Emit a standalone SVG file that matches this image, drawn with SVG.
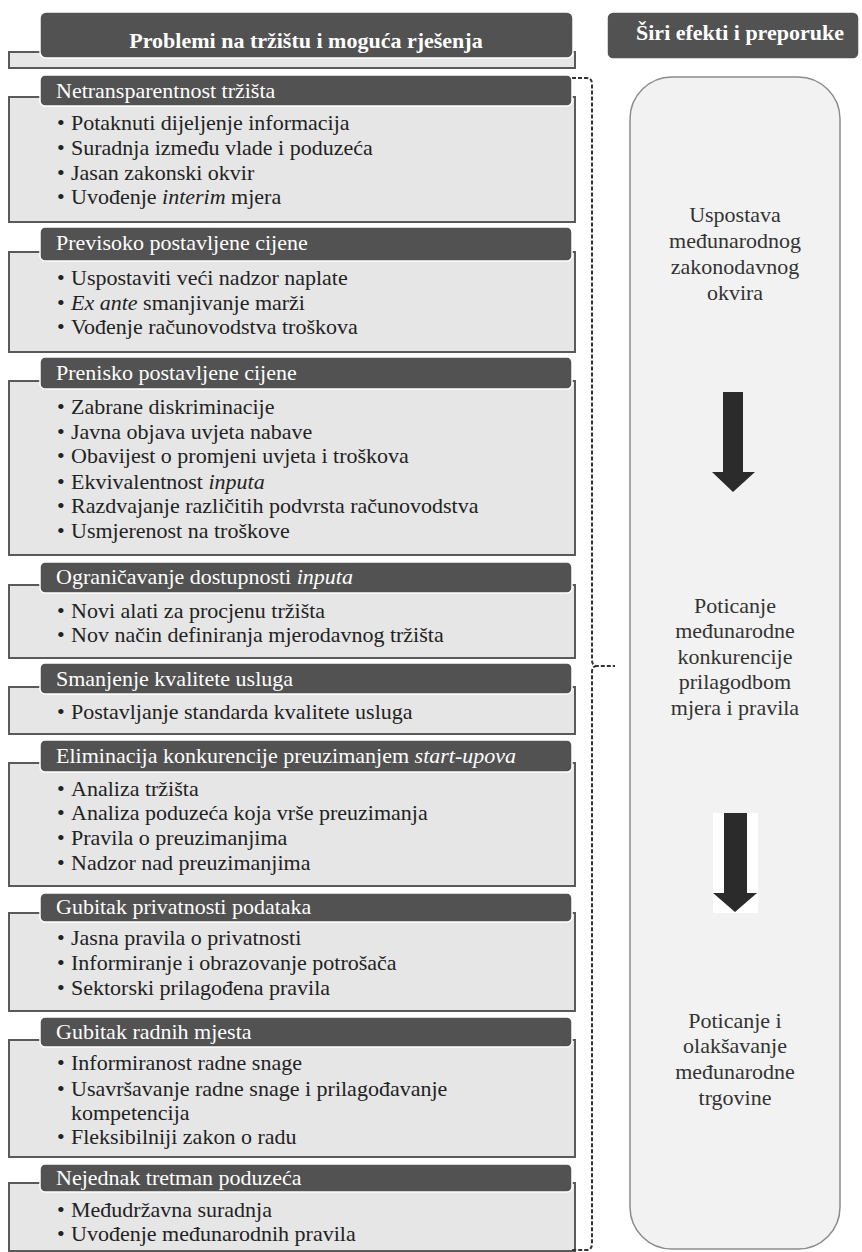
<svg xmlns="http://www.w3.org/2000/svg" width="862" height="1252" viewBox="0 0 862 1252">
<style>
.body{fill:#e6e6e6;stroke:#5a5a5a;stroke-width:2}
.hdr{fill:#525252;stroke:#ffffff;stroke-width:1.5}
.ht{font-family:"Times New Roman","Liberation Serif",Times,"Nimbus Roman","DejaVu Serif",serif;font-size:22px;fill:#ffffff}
.hb{font-family:"Times New Roman","Liberation Serif",Times,"Nimbus Roman","DejaVu Serif",serif;font-size:22px;font-weight:bold;fill:#ffffff}
.it{font-family:"Times New Roman","Liberation Serif",Times,"Nimbus Roman","DejaVu Serif",serif;font-size:22px;fill:#222222}
.rt{font-family:"Times New Roman","Liberation Serif",Times,"Nimbus Roman","DejaVu Serif",serif;font-size:22px;fill:#333333;text-anchor:middle}
.arr{fill:#2b2b2b}
</style>
<rect width="862" height="1252" fill="#ffffff"/>

<g id="title-left">
<rect class="body" x="9" y="52" width="566" height="16"/>
<rect class="hdr" x="40" y="12" width="533" height="46" rx="6"/>
<text class="hb" x="306" y="48" text-anchor="middle">Problemi na tržištu i moguća rješenja</text>
</g>

<g id="title-right">
<rect class="hdr" x="607" y="12" width="252" height="47" rx="6"/>
<text class="hb" x="740" y="40" text-anchor="middle">Širi efekti i preporuke</text>
</g>

<g id="box1">
<rect class="body" x="9" y="97" width="566" height="125"/>
<rect class="hdr" x="40" y="75" width="532" height="31" rx="5"/>
<text class="ht" x="56" y="98">Netransparentnost tržišta</text>
<text class="it"><tspan x="57" y="130">•</tspan><tspan x="71" y="130">Potaknuti dijeljenje informacija</tspan></text>
<text class="it"><tspan x="57" y="155">•</tspan><tspan x="71" y="155">Suradnja između vlade i poduzeća</tspan></text>
<text class="it"><tspan x="57" y="180">•</tspan><tspan x="71" y="180">Jasan zakonski okvir</tspan></text>
<text class="it"><tspan x="57" y="204">•</tspan><tspan x="71" y="204">Uvođenje <tspan font-style="italic">interim</tspan> mjera</tspan></text>
</g>

<g id="box2">
<rect class="body" x="9" y="252" width="566" height="100"/>
<rect class="hdr" x="40" y="227" width="532" height="34" rx="5"/>
<text class="ht" x="56" y="250">Previsoko postavljene cijene</text>
<text class="it"><tspan x="57" y="285">•</tspan><tspan x="71" y="285">Uspostaviti veći nadzor naplate</tspan></text>
<text class="it"><tspan x="57" y="310">•</tspan><tspan x="71" y="310"><tspan font-style="italic">Ex ante</tspan> smanjivanje marži</tspan></text>
<text class="it"><tspan x="57" y="334">•</tspan><tspan x="71" y="334">Vođenje računovodstva troškova</tspan></text>
</g>

<g id="box3">
<rect class="body" x="9" y="381" width="566" height="174"/>
<rect class="hdr" x="40" y="357" width="532" height="32" rx="5"/>
<text class="ht" x="56" y="380">Prenisko postavljene cijene</text>
<text class="it"><tspan x="57" y="414">•</tspan><tspan x="71" y="414">Zabrane diskriminacije</tspan></text>
<text class="it"><tspan x="57" y="439">•</tspan><tspan x="71" y="439">Javna objava uvjeta nabave</tspan></text>
<text class="it"><tspan x="57" y="463">•</tspan><tspan x="71" y="463">Obavijest o promjeni uvjeta i troškova</tspan></text>
<text class="it"><tspan x="57" y="489">•</tspan><tspan x="71" y="489">Ekvivalentnost <tspan font-style="italic">inputa</tspan></tspan></text>
<text class="it"><tspan x="57" y="513">•</tspan><tspan x="71" y="513">Razdvajanje različitih podvrsta računovodstva</tspan></text>
<text class="it"><tspan x="57" y="538">•</tspan><tspan x="71" y="538">Usmjerenost na troškove</tspan></text>
</g>

<g id="box4">
<rect class="body" x="9" y="585" width="566" height="73"/>
<rect class="hdr" x="40" y="562" width="532" height="31" rx="5"/>
<text class="ht" x="56" y="584">Ograničavanje dostupnosti <tspan font-style="italic">inputa</tspan></text>
<text class="it"><tspan x="57" y="618">•</tspan><tspan x="71" y="618">Novi alati za procjenu tržišta</tspan></text>
<text class="it"><tspan x="57" y="642">•</tspan><tspan x="71" y="642">Nov način definiranja mjerodavnog tržišta</tspan></text>
</g>

<g id="box5">
<rect class="body" x="9" y="687" width="566" height="47"/>
<rect class="hdr" x="40" y="663" width="532" height="31" rx="5"/>
<text class="ht" x="56" y="686">Smanjenje kvalitete usluga</text>
<text class="it"><tspan x="57" y="719">•</tspan><tspan x="71" y="719">Postavljanje standarda kvalitete usluga</tspan></text>
</g>

<g id="box6">
<rect class="body" x="9" y="763" width="566" height="123"/>
<rect class="hdr" x="40" y="740" width="532" height="32" rx="5"/>
<text class="ht" x="56" y="763">Eliminacija konkurencije preuzimanjem <tspan font-style="italic">start-upova</tspan></text>
<text class="it"><tspan x="57" y="796">•</tspan><tspan x="71" y="796">Analiza tržišta</tspan></text>
<text class="it"><tspan x="57" y="820">•</tspan><tspan x="71" y="820">Analiza poduzeća koja vrše preuzimanja</tspan></text>
<text class="it"><tspan x="57" y="845">•</tspan><tspan x="71" y="845">Pravila o preuzimanjima</tspan></text>
<text class="it"><tspan x="57" y="870">•</tspan><tspan x="71" y="870">Nadzor nad preuzimanjima</tspan></text>
</g>

<g id="box7">
<rect class="body" x="9" y="913" width="566" height="98"/>
<rect class="hdr" x="40" y="893" width="532" height="29" rx="5"/>
<text class="ht" x="56" y="914">Gubitak privatnosti podataka</text>
<text class="it"><tspan x="57" y="945">•</tspan><tspan x="71" y="945">Jasna pravila o privatnosti</tspan></text>
<text class="it"><tspan x="57" y="970">•</tspan><tspan x="71" y="970">Informiranje i obrazovanje potrošača</tspan></text>
<text class="it"><tspan x="57" y="995">•</tspan><tspan x="71" y="995">Sektorski prilagođena pravila</tspan></text>
</g>

<g id="box8">
<rect class="body" x="9" y="1040" width="566" height="117"/>
<rect class="hdr" x="40" y="1017" width="532" height="30" rx="5"/>
<text class="ht" x="56" y="1039">Gubitak radnih mjesta</text>
<text class="it"><tspan x="57" y="1070">•</tspan><tspan x="71" y="1070">Informiranost radne snage</tspan></text>
<text class="it"><tspan x="57" y="1096">•</tspan><tspan x="71" y="1096">Usavršavanje radne snage i prilagođavanje</tspan><tspan x="71" y="1120">kompetencija</tspan></text>
<text class="it"><tspan x="57" y="1144">•</tspan><tspan x="71" y="1144">Fleksibilniji zakon o radu</tspan></text>
</g>

<g id="box9">
<rect class="body" x="9" y="1183" width="566" height="68"/>
<rect class="hdr" x="40" y="1164" width="532" height="28" rx="5"/>
<text class="ht" x="56" y="1185">Nejednak tretman poduzeća</text>
<text class="it"><tspan x="57" y="1217">•</tspan><tspan x="71" y="1217">Međudržavna suradnja</tspan></text>
<text class="it"><tspan x="57" y="1241">•</tspan><tspan x="71" y="1241">Uvođenje međunarodnih pravila</tspan></text>
</g>

<g id="effects">
<rect x="630" y="77" width="210" height="1172" rx="42" fill="#f2f2f2" stroke="#8c8c8c" stroke-width="1.5"/>
<text class="rt"><tspan x="735" y="222">Uspostava</tspan><tspan x="735" y="248">međunarodnog</tspan><tspan x="735" y="274">zakonodavnog</tspan><tspan x="735" y="300">okvira</tspan></text>
<text class="rt"><tspan x="735" y="613">Poticanje</tspan><tspan x="735" y="638">međunarodne</tspan><tspan x="735" y="664">konkurencije</tspan><tspan x="735" y="689">prilagodbom</tspan><tspan x="735" y="715">mjera i pravila</tspan></text>
<text class="rt"><tspan x="735" y="1028">Poticanje i</tspan><tspan x="735" y="1053">olakšavanje</tspan><tspan x="735" y="1079">međunarodne</tspan><tspan x="735" y="1105">trgovine</tspan></text>
</g>

<g id="connectors">
<path d="M572,78 L586,78 Q592,78 592,84 L592,660 Q592,666 597,666 L615,666 M597,666 Q592,666 592,672 L592,1244 Q592,1250 586,1250 L572,1250" fill="none" stroke="#333333" stroke-width="2" stroke-dasharray="4 2"/>
<path class="arr" d="M723,392 L743,392 L743,472 L755,472 L733,492 L712,472 L723,472 Z"/>
<rect x="713" y="813" width="45" height="100" fill="#ffffff"/>
<path class="arr" d="M724,813 L747,813 L747,893 L757,893 L735,912 L713,893 L724,893 Z"/>
</g>
</svg>
